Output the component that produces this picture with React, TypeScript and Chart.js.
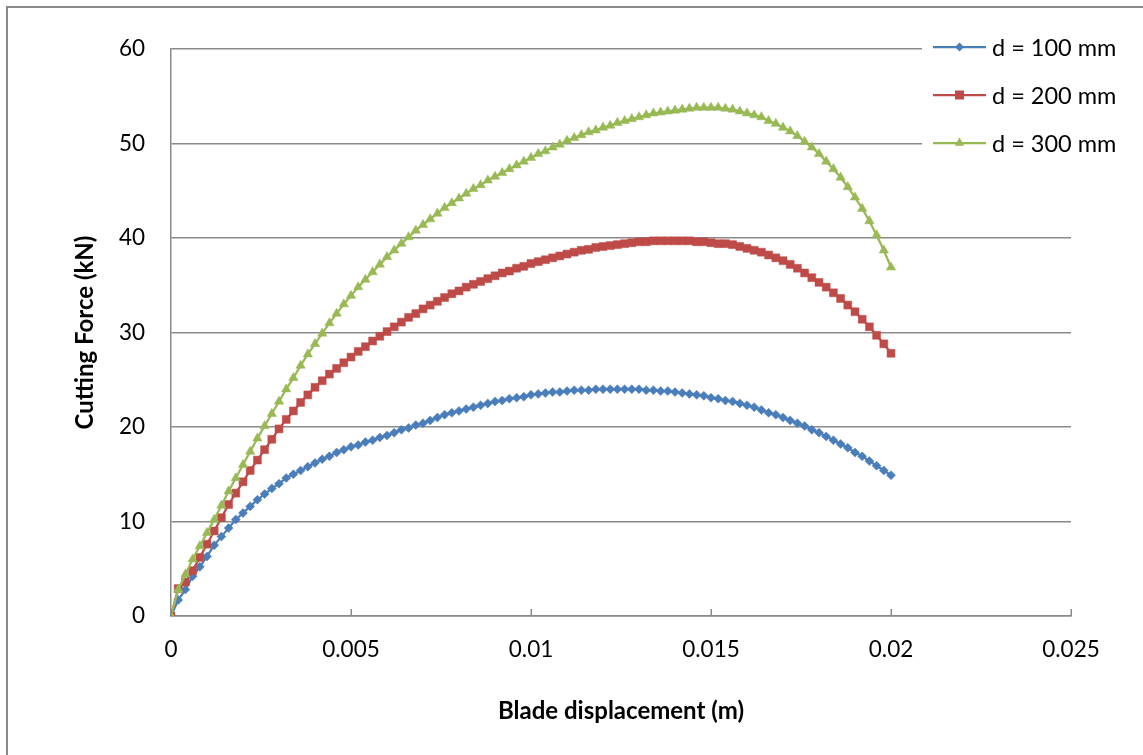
import React, { useEffect, useRef } from 'react';
import { Chart, registerables } from 'chart.js';

Chart.register(...registerables);

const displacement = [
  0, 0.0002, 0.0004, 0.0006, 0.0008, 0.001, 0.0012, 0.0014, 0.0016, 0.0018,
  0.002, 0.0022, 0.0024, 0.0026, 0.0028, 0.003, 0.0032, 0.0034, 0.0036, 0.0038,
  0.004, 0.0042, 0.0044, 0.0046, 0.0048, 0.005, 0.0052, 0.0054, 0.0056, 0.0058,
  0.006, 0.0062, 0.0064, 0.0066, 0.0068, 0.007, 0.0072, 0.0074, 0.0076, 0.0078,
  0.008, 0.0082, 0.0084, 0.0086, 0.0088, 0.009, 0.0092, 0.0094, 0.0096, 0.0098,
  0.01, 0.0102, 0.0104, 0.0106, 0.0108, 0.011, 0.0112, 0.0114, 0.0116, 0.0118,
  0.012, 0.0122, 0.0124, 0.0126, 0.0128, 0.013, 0.0132, 0.0134, 0.0136, 0.0138,
  0.014, 0.0142, 0.0144, 0.0146, 0.0148, 0.015, 0.0152, 0.0154, 0.0156, 0.0158,
  0.016, 0.0162, 0.0164, 0.0166, 0.0168, 0.017, 0.0172, 0.0174, 0.0176, 0.0178,
  0.018, 0.0182, 0.0184, 0.0186, 0.0188, 0.019, 0.0192, 0.0194, 0.0196, 0.0198,
  0.02,
];

const force100 = [
  0, 1.7, 2.8, 4.2, 5.2, 6.3, 7.5, 8.4, 9.3, 10.2,
  10.9, 11.6, 12.3, 12.9, 13.5, 14.0, 14.6, 15.0, 15.4, 15.8,
  16.2, 16.6, 16.9, 17.3, 17.6, 17.9, 18.1, 18.4, 18.6, 18.9,
  19.1, 19.4, 19.7, 19.9, 20.2, 20.4, 20.7, 21.0, 21.3, 21.5,
  21.7, 21.9, 22.1, 22.3, 22.5, 22.7, 22.8, 23.0, 23.1, 23.2,
  23.4, 23.5, 23.6, 23.7, 23.7, 23.8, 23.9, 23.9, 23.9, 24.0,
  24.0, 24.0, 24.0, 24.0, 24.0, 24.0, 23.9, 23.9, 23.8, 23.8,
  23.7, 23.6, 23.5, 23.4, 23.3, 23.1, 23.0, 22.8, 22.7, 22.5,
  22.3, 22.1, 21.8, 21.5, 21.3, 21.0, 20.7, 20.4, 20.1, 19.7,
  19.4, 19.0, 18.6, 18.2, 17.8, 17.3, 16.9, 16.4, 15.9, 15.4,
  14.9,
];

const force200 = [
  0, 2.9, 3.6, 4.8, 6.2, 7.6, 9.0, 10.4, 11.8, 13.0,
  14.2, 15.4, 16.5, 17.6, 18.7, 19.8, 20.8, 21.7, 22.6, 23.4,
  24.2, 24.9, 25.6, 26.2, 26.8, 27.4, 28.0, 28.5, 29.1, 29.6,
  30.1, 30.6, 31.1, 31.6, 32.0, 32.5, 32.9, 33.3, 33.7, 34.1,
  34.4, 34.8, 35.1, 35.4, 35.7, 36.0, 36.3, 36.5, 36.8, 37.0,
  37.3, 37.5, 37.7, 37.9, 38.1, 38.3, 38.5, 38.7, 38.8, 39.0,
  39.1, 39.2, 39.3, 39.4, 39.5, 39.6, 39.6, 39.7, 39.7, 39.7,
  39.7, 39.7, 39.7, 39.6, 39.6, 39.5, 39.4, 39.4, 39.3, 39.1,
  38.9, 38.7, 38.5, 38.2, 37.9, 37.6, 37.2, 36.8, 36.3, 35.8,
  35.3, 34.8, 34.2, 33.6, 32.9, 32.2, 31.4, 30.6, 29.7, 28.8,
  27.8,
];

const force300 = [
  0, 2.8, 4.4, 6.0, 7.4, 8.8, 10.2, 11.7, 13.2, 14.6,
  16.0, 17.4, 18.8, 20.1, 21.4, 22.7, 24.0, 25.2, 26.5, 27.7,
  28.8, 29.9, 31.0, 32.0, 33.0, 33.9, 34.8, 35.6, 36.4, 37.2,
  38.0, 38.7, 39.4, 40.1, 40.8, 41.4, 42.0, 42.6, 43.2, 43.7,
  44.2, 44.7, 45.2, 45.6, 46.1, 46.5, 46.9, 47.3, 47.7, 48.1,
  48.5, 48.9, 49.2, 49.6, 49.9, 50.3, 50.6, 50.9, 51.2, 51.4,
  51.7, 51.9, 52.2, 52.4, 52.6, 52.8, 53.0, 53.2, 53.3, 53.4,
  53.5, 53.6, 53.7, 53.8, 53.8, 53.8, 53.8, 53.7, 53.6, 53.4,
  53.2, 53.0, 52.8, 52.4, 52.1, 51.7, 51.3, 50.8, 50.2, 49.6,
  48.9, 48.1, 47.3, 46.4, 45.4, 44.3, 43.1, 41.8, 40.3, 38.7,
  36.9,
];

const seriesLabels = ['d = 100 mm', 'd = 200 mm', 'd = 300 mm'];
const xTickLabels = ['0', '0.005', '0.01', '0.015', '0.02', '0.025'];
const yTickLabels = ['0', '10', '20', '30', '40', '50', '60'];

const FONT = 'Lato, "Open Sans", "DejaVu Sans", sans-serif';
const GRAY = '#8a8a8a';
const COLORS = ['#4a7ebb', '#be4b48', '#98b954'];
const STYLES = ['rectRot', 'rect', 'triangle'];

function drawMarker(ctx: CanvasRenderingContext2D, style: string, x: number, y: number, color: string) {
  ctx.save();
  ctx.fillStyle = color;
  ctx.beginPath();
  if (style === 'rectRot') {
    const r = 4.5;
    ctx.moveTo(x, y - r);
    ctx.lineTo(x + r, y);
    ctx.lineTo(x, y + r);
    ctx.lineTo(x - r, y);
  } else if (style === 'rect') {
    const s = 4.5;
    ctx.rect(x - s, y - s, 2 * s, 2 * s);
  } else {
    const r = 5.5;
    ctx.moveTo(x, y - r);
    ctx.lineTo(x + r * 0.866, y + r * 0.5);
    ctx.lineTo(x - r * 0.866, y + r * 0.5);
  }
  ctx.closePath();
  ctx.fill();
  ctx.restore();
}

const insideTicksPlugin = {
  id: 'insideTicks',
  afterDraw(chart: any) {
    const xs = chart.scales.x;
    const ctx = chart.ctx;
    ctx.save();
    ctx.strokeStyle = GRAY;
    ctx.lineWidth = 1.5;
    xs.ticks.forEach((_t: any, i: number) => {
      const px = Math.round(xs.getPixelForTick(i)) + 0.25;
      ctx.beginPath();
      ctx.moveTo(px, xs.top);
      ctx.lineTo(px, xs.top - 7);
      ctx.stroke();
    });
    ctx.restore();
  },
};

const legendPlugin = {
  id: 'customLegend',
  afterDraw(chart: any) {
    const ctx = chart.ctx;
    const ca = chart.chartArea;
    const x0 = ca.right - 149;
    ctx.save();
    ctx.fillStyle = '#ffffff';
    ctx.fillRect(x0, ca.top - 22, 215, 132);
    chart.data.datasets.forEach((ds: any, i: number) => {
      const y = ca.top - 2 + i * 48;
      ctx.strokeStyle = ds.borderColor;
      ctx.lineWidth = 2.25;
      ctx.beginPath();
      ctx.moveTo(x0 + 11, y);
      ctx.lineTo(x0 + 64, y);
      ctx.stroke();
      drawMarker(ctx, STYLES[i], x0 + 37.5, y, ds.borderColor);
      ctx.fillStyle = '#000';
      ctx.font = `23.5px ${FONT}`;
      ctx.textBaseline = 'middle';
      ctx.textAlign = 'left';
      ctx.fillText(ds.label, x0 + 70, y + 1);
    });
    ctx.restore();
  },
};

export default function App() {
  const ref = useRef<HTMLCanvasElement | null>(null);

  useEffect(() => {
    if (!ref.current) return;
    const seriesValues = [force100, force200, force300];
    const datasets = seriesValues.map((vals, i) => ({
      label: seriesLabels[i],
      data: displacement.map((x, j) => ({ x, y: vals[j] })),
      showLine: true,
      borderColor: COLORS[i],
      backgroundColor: COLORS[i],
      borderWidth: 2.25,
      pointStyle: STYLES[i],
      pointRadius: i === 0 ? 4.5 : i === 1 ? 5.6 : 5.4,
      pointBorderWidth: 0.5,
      pointBorderColor: COLORS[i],
      pointBackgroundColor: COLORS[i],
      order: 3 - i,
      tension: 0,
    }));

    const chart = new Chart(ref.current, {
      type: 'scatter',
      data: { datasets },
      plugins: [insideTicksPlugin, legendPlugin],
      options: {
        responsive: false,
        animation: false,
        devicePixelRatio: 1,
        layout: { padding: { left: 0, right: 72, top: 49, bottom: 0 } },
        plugins: {
          legend: { display: false },
          tooltip: { enabled: false },
        },
        scales: {
          x: {
            type: 'linear',
            min: 0,
            max: 0.025,
            ticks: {
              stepSize: 0.005,
              autoSkip: false,
              maxRotation: 0,
              padding: 20,
              color: '#000',
              font: { family: FONT, size: 22.5 },
              callback: (_v: any, i: number) => xTickLabels[i],
            },
            grid: { drawOnChartArea: false, drawTicks: false },
            border: { color: GRAY, width: 1.5 },
            title: {
              display: true,
              text: 'Blade displacement (m)',
              color: '#000',
              font: { family: FONT, size: 24, weight: 'bold' },
              padding: { top: 0, bottom: 29 },
            },
            afterFit: (s: any) => { s.height = 139; },
          },
          y: {
            type: 'linear',
            min: 0,
            max: 60,
            ticks: {
              stepSize: 10,
              padding: 26,
              color: '#000',
              font: { family: FONT, size: 22.5 },
              callback: (_v: any, i: number) => yTickLabels[i],
            },
            grid: { color: GRAY, lineWidth: 1.5, drawTicks: false },
            border: { color: GRAY, width: 1.5 },
            title: {
              display: true,
              text: 'Cutting Force (kN)',
              color: '#000',
              font: { family: FONT, size: 24, weight: 'bold' },
              padding: { top: 71, bottom: 0 },
            },
            afterFit: (s: any) => { s.width = 171; },
          },
        },
      } as any,
    });
    return () => chart.destroy();
  }, []);

  return (
    <div style={{ position: 'fixed', left: 0, top: 0, width: 1143, height: 755, overflow: 'hidden', background: '#fff' }}>
      <div style={{ position: 'absolute', left: 6, top: 6, width: 1200, height: 800, border: `2px solid ${GRAY}` }} />
      <canvas ref={ref} width={1143} height={755} style={{ position: 'absolute', left: 0, top: 0, width: 1143, height: 755 }} />
    </div>
  );
}
